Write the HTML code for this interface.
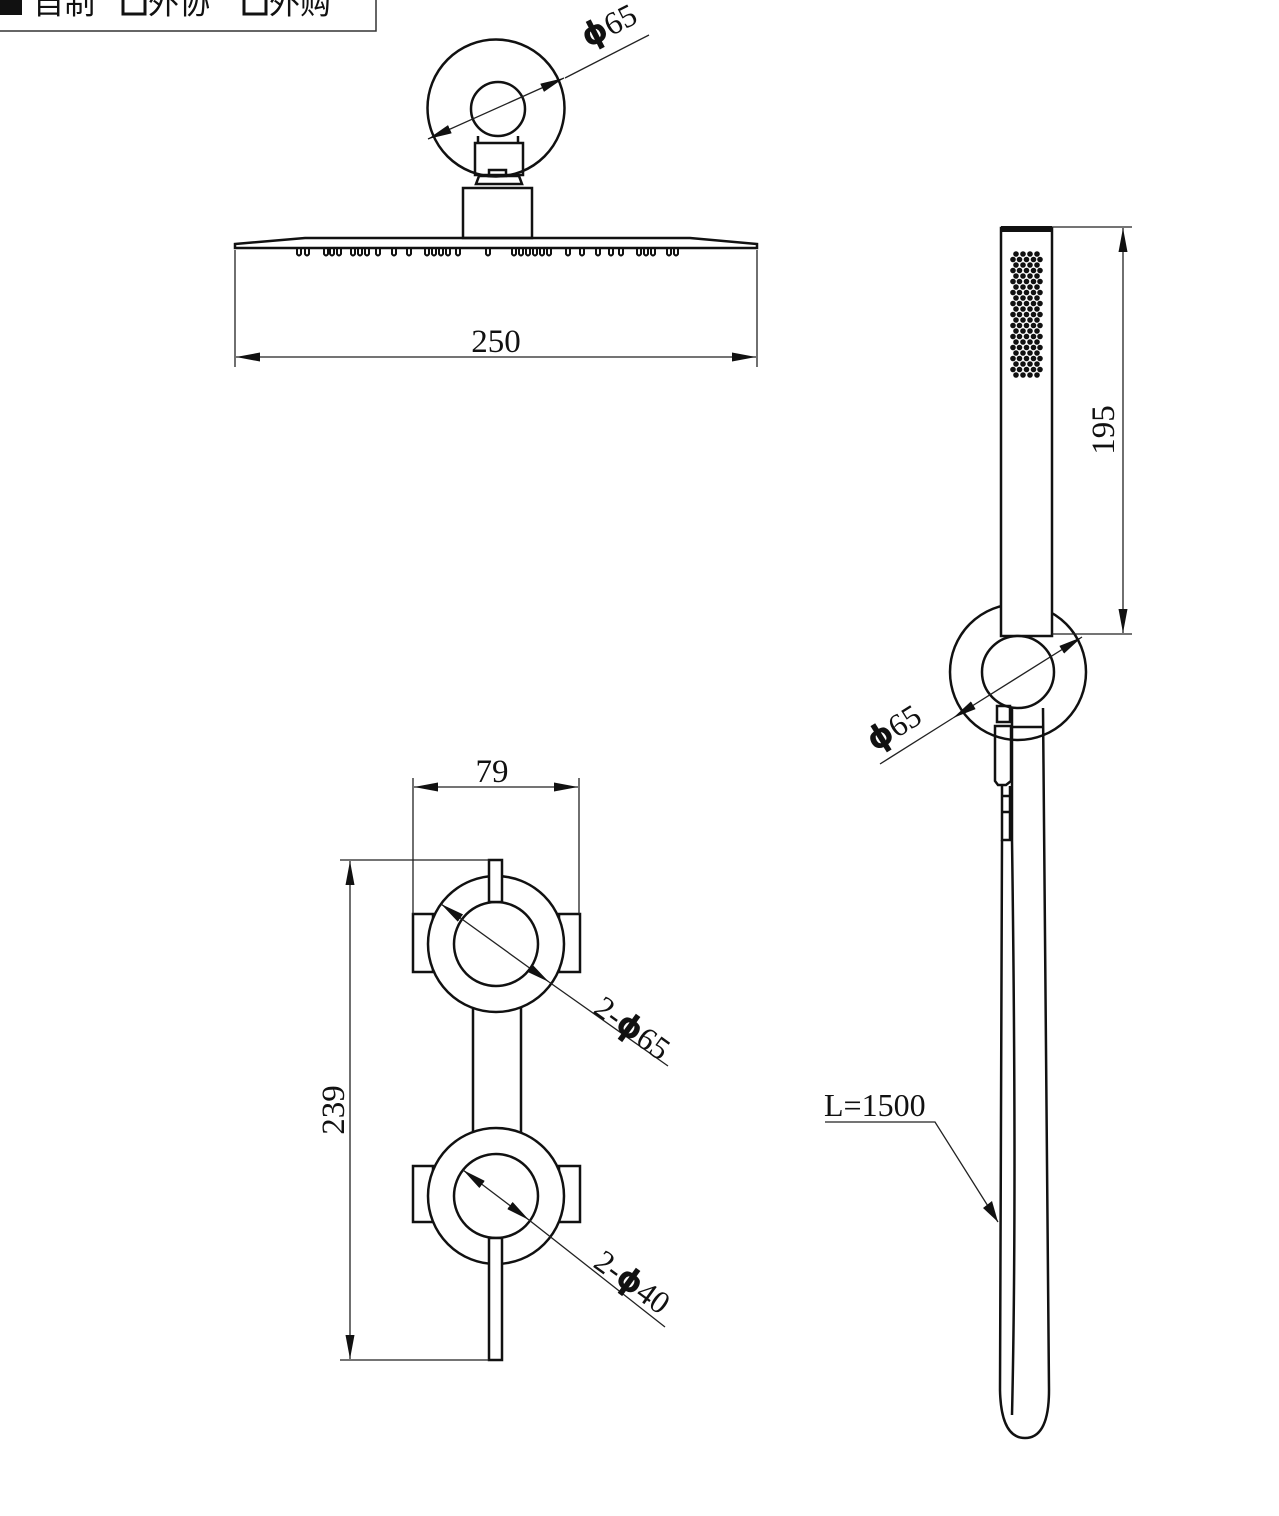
<!DOCTYPE html>
<html><head><meta charset="utf-8"><style>
html,body{margin:0;padding:0;background:#fff;}
svg{display:block;}
text{font-family:"Liberation Serif","Noto Serif CJK SC",serif;fill:#111;}
</style></head><body>
<svg width="1279" height="1516" viewBox="0 0 1279 1516" xmlns="http://www.w3.org/2000/svg">
<defs>
<marker id="a" viewBox="0 0 24 9" refX="24" refY="4.5" markerWidth="24" markerHeight="9" markerUnits="userSpaceOnUse" orient="auto-start-reverse"><path d="M0,0 L24,4.5 L0,9 Z" fill="#111"/></marker>
</defs>
<!-- header box -->
<path d="M0 31 H376 V0" fill="none" stroke="#333" stroke-width="1.5"/>
<rect x="0" y="-6" width="22" height="21" fill="#111"/>
<text x="33" y="14" font-size="31" style="font-family:'Noto Sans CJK SC',sans-serif">自制</text>
<rect x="123" y="-6" width="22" height="20" fill="none" stroke="#111" stroke-width="3"/>
<text x="148" y="14" font-size="31" style="font-family:'Noto Sans CJK SC',sans-serif">外协</text>
<rect x="244" y="-6" width="22" height="20" fill="none" stroke="#111" stroke-width="3"/>
<text x="269" y="14" font-size="31" style="font-family:'Noto Sans CJK SC',sans-serif">外购</text>

<g fill="none" stroke="#111" stroke-width="2.5">
<!-- rain shower -->
<circle cx="496" cy="108" r="68.5"/>
<circle cx="498" cy="109" r="27"/>
<path d="M478 136 V143 M518 136 V143"/>
<rect x="475" y="143" width="48" height="32"/>
<rect x="489" y="170" width="17" height="6"/>
<path d="M479 176 H519 L522 184 H476 Z"/>
<rect x="463" y="188" width="69" height="50"/>
<path d="M235 244 L305 238 H690 L757 244 V248 H235 Z"/>
</g>
<g fill="none" stroke="#111" stroke-width="2">
<path d="M297 249 v5 q2 3 4 0 v-5 M305 249 v5 q2 3 4 0 v-5 M324 249 v5 q2 3 4 0 v-5 M330 249 v5 q2 3 4 0 v-5 M337 249 v5 q2 3 4 0 v-5 M351 249 v5 q2 3 4 0 v-5 M358 249 v5 q2 3 4 0 v-5 M365 249 v5 q2 3 4 0 v-5 M376 249 v5 q2 3 4 0 v-5 M392 249 v5 q2 3 4 0 v-5 M407 249 v5 q2 3 4 0 v-5 M425 249 v5 q2 3 4 0 v-5 M432 249 v5 q2 3 4 0 v-5 M439 249 v5 q2 3 4 0 v-5 M446 249 v5 q2 3 4 0 v-5 M456 249 v5 q2 3 4 0 v-5 M486 249 v5 q2 3 4 0 v-5 M512 249 v5 q2 3 4 0 v-5 M519 249 v5 q2 3 4 0 v-5 M526 249 v5 q2 3 4 0 v-5 M533 249 v5 q2 3 4 0 v-5 M540 249 v5 q2 3 4 0 v-5 M547 249 v5 q2 3 4 0 v-5 M566 249 v5 q2 3 4 0 v-5 M580 249 v5 q2 3 4 0 v-5 M596 249 v5 q2 3 4 0 v-5 M609 249 v5 q2 3 4 0 v-5 M619 249 v5 q2 3 4 0 v-5 M637 249 v5 q2 3 4 0 v-5 M644 249 v5 q2 3 4 0 v-5 M651 249 v5 q2 3 4 0 v-5 M667 249 v5 q2 3 4 0 v-5 M674 249 v5 q2 3 4 0 v-5"/>
</g>
<g stroke="#222" stroke-width="1.3" fill="none">
<path d="M235 250 V367 M757 250 V367"/>
<line x1="236" y1="357" x2="756" y2="357" marker-start="url(#a)" marker-end="url(#a)"/>
<line x1="649" y1="35" x2="565" y2="78"/>
<line x1="564" y1="78" x2="428" y2="139" marker-start="url(#a)" marker-end="url(#a)"/>
</g>
<text x="496" y="352" font-size="33" text-anchor="middle">250</text>
<text transform="translate(588,48) rotate(-27)" font-size="32"><tspan font-weight="bold" style="font-family:'DejaVu Sans',sans-serif">ϕ</tspan>65</text>

<!-- hand shower -->
<g fill="none" stroke="#111" stroke-width="2.5">
<circle cx="1018" cy="672" r="68"/>
<rect x="1001" y="228" width="51" height="408" fill="#fff"/>
<circle cx="1018" cy="672" r="36" fill="#fff"/>
<path d="M1012 708 V840 Q1017 1200 1012 1415"/>
<path d="M1043 708 L1049 1390 Q1049 1438 1025 1438 Q1001 1438 1000 1390 L1002 840"/>
<path d="M1012 727 H1043"/>
<rect x="997" y="706" width="13" height="16"/>
<path d="M995 726 H1011 V781 L1006 785 H998 L995 781 Z"/>
<path d="M1002 786 V840 H1010 V786 M1002 796 H1010 M1002 812 H1010"/>
</g>
<rect x="1001" y="226" width="51" height="6" fill="#111"/>
<g fill="#111">
<g id="dr">
<circle cx="1016" cy="254" r="2.8"/><circle cx="1023" cy="254" r="2.8"/><circle cx="1030" cy="254" r="2.8"/><circle cx="1037" cy="254" r="2.8"/>
<circle cx="1019.5" cy="259.5" r="2.8"/><circle cx="1026.5" cy="259.5" r="2.8"/><circle cx="1033.5" cy="259.5" r="2.8"/><circle cx="1040" cy="259.5" r="2.8"/><circle cx="1013" cy="259.5" r="2.8"/>
</g>
<use href="#dr" y="11"/><use href="#dr" y="22"/><use href="#dr" y="33"/><use href="#dr" y="44"/><use href="#dr" y="55"/><use href="#dr" y="66"/><use href="#dr" y="77"/><use href="#dr" y="88"/><use href="#dr" y="99"/><use href="#dr" y="110"/>
<circle cx="1016" cy="375" r="2.8"/><circle cx="1023" cy="375" r="2.8"/><circle cx="1030" cy="375" r="2.8"/><circle cx="1037" cy="375" r="2.8"/>
</g>
<g stroke="#222" stroke-width="1.3" fill="none">
<path d="M1052 227 H1132 M1052 634 H1132"/>
<line x1="1123" y1="228" x2="1123" y2="633" marker-start="url(#a)" marker-end="url(#a)"/>
<line x1="880" y1="764" x2="953" y2="718"/>
<line x1="953" y1="718" x2="1082" y2="637" marker-start="url(#a)" marker-end="url(#a)"/>
<path d="M825 1122 H935 L998 1222"/>
</g>
<path d="M998 1222 L983 1208 L992 1201 Z" fill="#111"/>
<text transform="translate(1114,430) rotate(-90)" font-size="33" text-anchor="middle">195</text>
<text transform="translate(875,752) rotate(-32)" font-size="32"><tspan font-weight="bold" style="font-family:'DejaVu Sans',sans-serif">ϕ</tspan>65</text>
<text x="824" y="1116" font-size="32">L=1500</text>

<!-- valve -->
<g fill="none" stroke="#111" stroke-width="2.5">
<rect x="413" y="914" width="20" height="58"/>
<rect x="559" y="914" width="21" height="58"/>
<rect x="413" y="1166" width="20" height="56"/>
<rect x="559" y="1166" width="21" height="56"/>
<rect x="473" y="1005" width="48" height="130"/>
<circle cx="496" cy="944" r="68" fill="#fff"/>
<circle cx="496" cy="944" r="42"/>
<circle cx="496" cy="1196" r="68" fill="#fff"/>
<circle cx="496" cy="1196" r="42"/>
<rect x="489" y="860" width="13" height="42" fill="#fff"/>
<rect x="489" y="1238" width="13" height="122" fill="#fff"/>
</g>
<g stroke="#222" stroke-width="1.3" fill="none">
<path d="M413 778 V914 M579 778 V914"/>
<line x1="414" y1="787" x2="578" y2="787" marker-start="url(#a)" marker-end="url(#a)"/>
<path d="M340 860 H489 M340 1360 H489"/>
<line x1="350" y1="861" x2="350" y2="1359" marker-start="url(#a)" marker-end="url(#a)"/>
<line x1="441" y1="904" x2="549" y2="982" marker-start="url(#a)" marker-end="url(#a)"/>
<line x1="549" y1="982" x2="668" y2="1066"/>
<line x1="463" y1="1170" x2="529" y2="1220" marker-start="url(#a)" marker-end="url(#a)"/>
<line x1="529" y1="1220" x2="665" y2="1327"/>
</g>
<text x="492" y="782" font-size="33" text-anchor="middle">79</text>
<text transform="translate(344,1110) rotate(-90)" font-size="33" text-anchor="middle">239</text>
<text transform="translate(592,1012) rotate(36)" font-size="32">2-<tspan font-weight="bold" style="font-family:'DejaVu Sans',sans-serif">ϕ</tspan>65</text>
<text transform="translate(592,1266) rotate(36)" font-size="32">2-<tspan font-weight="bold" style="font-family:'DejaVu Sans',sans-serif">ϕ</tspan>40</text>
</svg>
</body></html>
